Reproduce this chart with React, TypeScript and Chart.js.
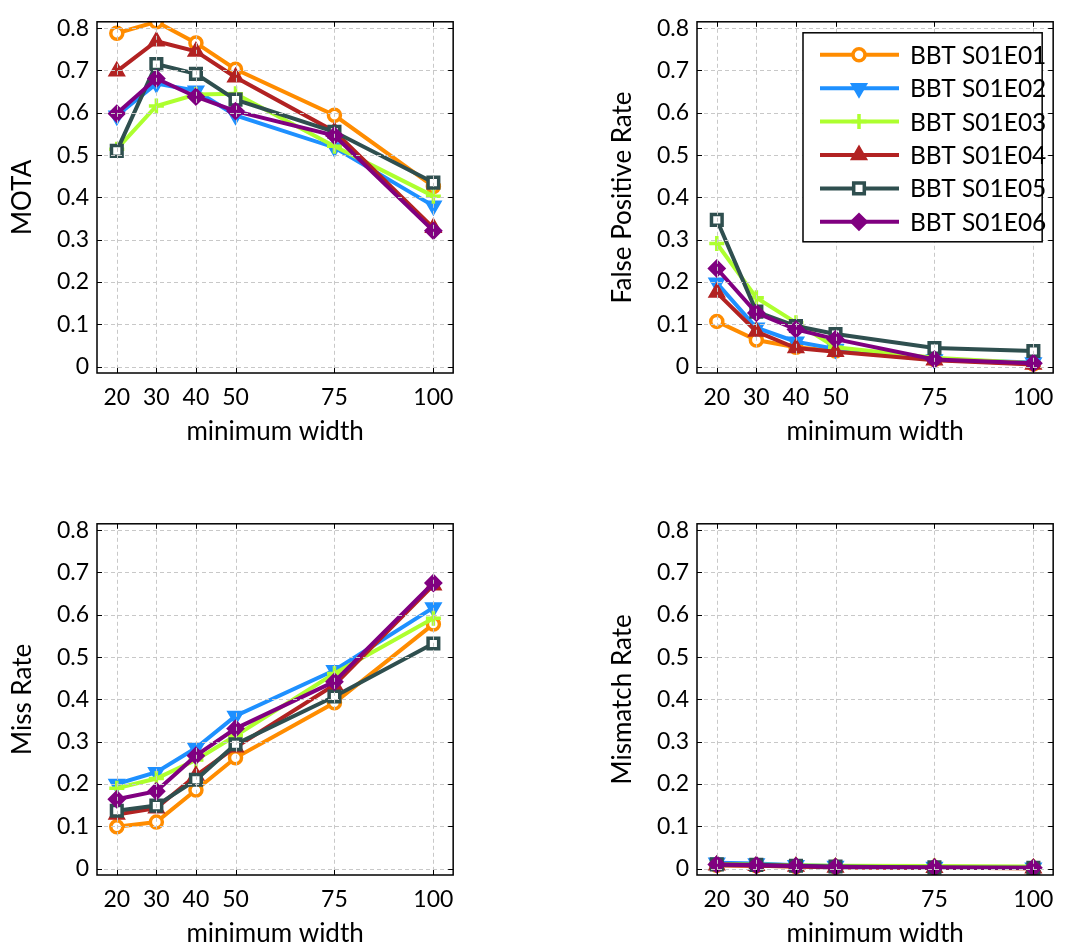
import React, { useEffect, useRef } from "react";
import { Chart, registerables } from "chart.js";
import * as helpers from "chart.js/helpers";

Chart.register(...registerables);

// ---------------- data ----------------
const widths = [20, 30, 40, 50, 75, 100];
const xTickLabels = ["20", "30", "40", "50", "75", "100"];
const yTicks = [0, 0.1, 0.2, 0.3, 0.4, 0.5, 0.6, 0.7, 0.8];
const yTickLabels = ["0", "0.1", "0.2", "0.3", "0.4", "0.5", "0.6", "0.7", "0.8"];

const seriesNames = ["BBT S01E01", "BBT S01E02", "BBT S01E03", "BBT S01E04", "BBT S01E05", "BBT S01E06"];
const seriesColors = ["#FF8C00", "#1E90FF", "#ADFF2F", "#B22222", "#2F4F4F", "#800080"];
const seriesMarkers = ["circle", "triangle", "cross", "triangle", "rect", "rectRot"];
const seriesMarkerRotation = [0, 180, 0, 0, 0, 0];

const motaE01 = [0.788, 0.815, 0.765, 0.703, 0.594, 0.426];
const motaE02 = [0.593, 0.669, 0.652, 0.594, 0.518, 0.38];
const motaE03 = [0.514, 0.616, 0.643, 0.645, 0.521, 0.403];
const motaE04 = [0.698, 0.769, 0.745, 0.684, 0.556, 0.328];
const motaE05 = [0.51, 0.715, 0.692, 0.631, 0.555, 0.435];
const motaE06 = [0.598, 0.681, 0.638, 0.604, 0.546, 0.321];

const fpE01 = [0.107, 0.063, 0.046, 0.037, 0.017, 0.006];
const fpE02 = [0.198, 0.092, 0.059, 0.042, 0.017, 0.01];
const fpE03 = [0.291, 0.163, 0.104, 0.046, 0.021, 0.008];
const fpE04 = [0.175, 0.083, 0.044, 0.035, 0.015, 0.005];
const fpE05 = [0.347, 0.13, 0.096, 0.077, 0.044, 0.037];
const fpE06 = [0.232, 0.127, 0.088, 0.065, 0.017, 0.008];

const missE01 = [0.099, 0.11, 0.186, 0.262, 0.392, 0.578];
const missE02 = [0.2, 0.228, 0.285, 0.361, 0.469, 0.617];
const missE03 = [0.19, 0.213, 0.257, 0.314, 0.461, 0.592];
const missE04 = [0.128, 0.143, 0.22, 0.287, 0.434, 0.67];
const missE05 = [0.137, 0.149, 0.21, 0.294, 0.407, 0.532];
const missE06 = [0.164, 0.183, 0.267, 0.331, 0.442, 0.675];

const mmE01 = [0.008, 0.007, 0.005, 0.004, 0.002, 0.001];
const mmE02 = [0.014, 0.012, 0.008, 0.006, 0.004, 0.002];
const mmE03 = [0.011, 0.01, 0.008, 0.007, 0.006, 0.005];
const mmE04 = [0.008, 0.007, 0.005, 0.003, 0.002, 0.001];
const mmE05 = [0.01, 0.009, 0.007, 0.005, 0.003, 0.002];
const mmE06 = [0.01, 0.008, 0.006, 0.004, 0.003, 0.002];

const xTitle = "minimum width";

// ---------------- styling ----------------
const FONT = "Lato, 'Open Sans', sans-serif";
const markerRadius: Record<string, number> = { circle: 6, triangle: 8.5, cross: 7.5, rect: 7.5, rectRot: 8 };
const markerBorder: Record<string, number> = { circle: 3.5, triangle: 2, cross: 3.5, rect: 3.5, rectRot: 2 };
const markerFilled: Record<string, boolean> = { circle: false, triangle: true, cross: false, rect: false, rectRot: true };
const LINE_W = 4;

function makeFramePlugin(showLegend: boolean) {
  return {
    id: "frame",
    afterDatasetsDraw(chart: any) {
      const { ctx, chartArea: a } = chart;
      const xs = chart.scales.x;
      const ys = chart.scales.y;
      ctx.save();
      // dashed grid (drawn on top of data)
      ctx.strokeStyle = "#c8c8c8";
      ctx.lineWidth = 1;
      ctx.setLineDash([4, 3]);
      widths.forEach((v) => {
        const px = Math.round(xs.getPixelForValue(v)) + 0.5;
        ctx.beginPath();
        ctx.moveTo(px, a.top);
        ctx.lineTo(px, a.bottom);
        ctx.stroke();
      });
      yTicks.forEach((v) => {
        const py = Math.round(ys.getPixelForValue(v)) + 0.5;
        ctx.beginPath();
        ctx.moveTo(a.left, py);
        ctx.lineTo(a.right, py);
        ctx.stroke();
      });
      ctx.setLineDash([]);
      // inward ticks
      ctx.strokeStyle = "#000";
      ctx.lineWidth = 1;
      const tl = 5;
      widths.forEach((v) => {
        const px = Math.round(xs.getPixelForValue(v)) + 0.5;
        ctx.beginPath();
        ctx.moveTo(px, a.bottom);
        ctx.lineTo(px, a.bottom - tl);
        ctx.moveTo(px, a.top);
        ctx.lineTo(px, a.top + tl);
        ctx.stroke();
      });
      yTicks.forEach((v) => {
        const py = Math.round(ys.getPixelForValue(v)) + 0.5;
        ctx.beginPath();
        ctx.moveTo(a.left, py);
        ctx.lineTo(a.left + tl, py);
        ctx.moveTo(a.right, py);
        ctx.lineTo(a.right - tl, py);
        ctx.stroke();
      });
      // box
      ctx.lineWidth = 1.5;
      ctx.strokeRect(a.left, a.top, a.right - a.left, a.bottom - a.top);

      if (showLegend) {
        const bx = a.left + 106;
        const by = a.top + 11;
        const bw = a.right - 11 - bx;
        const bh = 209;
        ctx.fillStyle = "#fff";
        ctx.fillRect(bx, by, bw, bh);
        ctx.strokeStyle = "#000";
        ctx.lineWidth = 1.5;
        ctx.strokeRect(bx, by, bw, bh);
        seriesNames.forEach((name, i) => {
          const cy = by + 22 + i * 33.4;
          const col = seriesColors[i];
          const m = seriesMarkers[i];
          ctx.strokeStyle = col;
          ctx.lineWidth = LINE_W;
          ctx.beginPath();
          ctx.moveTo(bx + 17, cy);
          ctx.lineTo(bx + 96, cy);
          ctx.stroke();
          ctx.fillStyle = markerFilled[m] ? col : "#fff";
          ctx.strokeStyle = col;
          ctx.lineWidth = markerBorder[m];
          helpers.drawPoint(
            ctx,
            { pointStyle: m, rotation: seriesMarkerRotation[i], radius: markerRadius[m], borderWidth: markerBorder[m] },
            bx + 56,
            cy
          );
          ctx.fillStyle = "#000";
          ctx.font = `24.5px ${FONT}`;
          ctx.textBaseline = "middle";
          ctx.textAlign = "left";
          ctx.fillText(name, bx + 107, cy + 1);
        });
      }
      ctx.restore();
    },
  };
}

interface PanelProps {
  yTitle: string;
  series: number[][];
  legend: boolean;
  left: number;
  top: number;
}

const W = 465;
const H = 450;

function Panel({ yTitle, series, legend, left, top }: PanelProps) {
  const ref = useRef<HTMLCanvasElement>(null);
  useEffect(() => {
    if (!ref.current) return;
    const datasets = series.map((vals, i) => {
      const m = seriesMarkers[i];
      return {
        label: seriesNames[i],
        data: widths.map((w, j) => ({ x: w, y: vals[j] })),
        borderColor: seriesColors[i],
        backgroundColor: seriesColors[i],
        borderWidth: LINE_W,
        tension: 0,
        pointStyle: m,
        pointRotation: seriesMarkerRotation[i],
        pointRadius: markerRadius[m],
        pointBorderWidth: markerBorder[m],
        pointBorderColor: seriesColors[i],
        pointBackgroundColor: markerFilled[m] ? seriesColors[i] : "#fff",
        clip: 0,
        order: 10 - i,
      };
    });
    const chart = new Chart(ref.current, {
      type: "line",
      data: { datasets } as any,
      options: {
        animation: false,
        responsive: false,
        maintainAspectRatio: false,
        events: [],
        layout: { padding: { top: 12, right: 6, bottom: 0, left: 0 } },
        plugins: { legend: { display: false }, tooltip: { enabled: false } },
        scales: {
          x: {
            type: "linear",
            min: 15,
            max: 105,
            afterBuildTicks: (s: any) => {
              s.ticks = widths.map((v) => ({ value: v }));
            },
            afterFit: (s: any) => {
              s.height = 77;
            },
            ticks: {
              callback: (_v: any, i: number) => xTickLabels[i],
              padding: 11,
              color: "#000",
              font: { family: FONT, size: 23 },
              maxRotation: 0,
              autoSkip: false,
            },
            grid: { display: false, drawTicks: false },
            border: { display: false },
            title: {
              display: true,
              text: xTitle,
              color: "#000",
              font: { family: FONT, size: 26 },
              padding: { top: 0, bottom: 3 },
            },
          },
          y: {
            type: "linear",
            min: -0.015,
            max: 0.815,
            afterBuildTicks: (s: any) => {
              s.ticks = yTicks.map((v) => ({ value: v }));
            },
            afterFit: (s: any) => {
              s.width = 97;
            },
            ticks: {
              callback: (_v: any, i: number) => yTickLabels[i],
              padding: 8,
              color: "#000",
              font: { family: FONT, size: 23 },
              autoSkip: false,
            },
            grid: { display: false, drawTicks: false },
            border: { display: false },
            title: {
              display: true,
              text: yTitle,
              color: "#000",
              font: { family: FONT, size: 26 },
              padding: { top: 7, bottom: 0 },
            },
          },
        },
      } as any,
      plugins: [makeFramePlugin(legend)],
    });
    return () => chart.destroy();
  }, []);
  return (
    <canvas
      ref={ref}
      width={W}
      height={H}
      style={{ position: "absolute", left, top, width: W, height: H }}
    />
  );
}

export default function App() {
  return (
    <div style={{ position: "absolute", left: 0, top: 0, width: 1065, height: 950, background: "#fff" }}>
      <Panel yTitle="MOTA" series={[motaE01, motaE02, motaE03, motaE04, motaE05, motaE06]} legend={false} left={0} top={0} />
      <Panel yTitle="False Positive Rate" series={[fpE01, fpE02, fpE03, fpE04, fpE05, fpE06]} legend={true} left={600} top={0} />
      <Panel yTitle="Miss Rate" series={[missE01, missE02, missE03, missE04, missE05, missE06]} legend={false} left={0} top={502} />
      <Panel yTitle="Mismatch Rate" series={[mmE01, mmE02, mmE03, mmE04, mmE05, mmE06]} legend={false} left={600} top={502} />
    </div>
  );
}
